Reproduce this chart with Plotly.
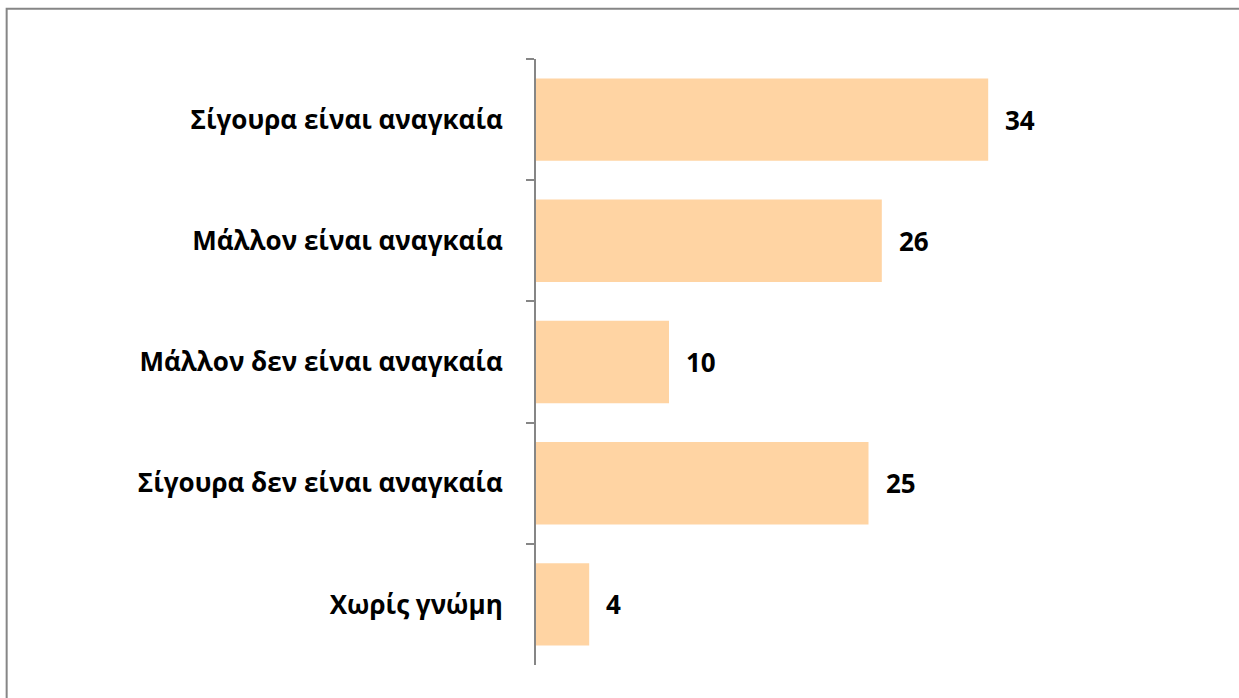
import plotly.graph_objects as go

categories = [
    "Σίγουρα είναι αναγκαία",
    "Μάλλον είναι αναγκαία",
    "Μάλλον δεν είναι αναγκαία",
    "Σίγουρα δεν είναι αναγκαία",
    "Χωρίς γνώμη",
]
values = [34, 26, 10, 25, 4]

bar_color = "#FFD4A3"
axis_gray = "#868686"
font_family = "Open Sans, Noto Sans, DejaVu Sans, sans-serif"

fig = go.Figure()
fig.add_trace(go.Bar(
    x=values,
    y=categories,
    orientation="h",
    marker=dict(color=bar_color, line=dict(width=0)),
    width=0.68,
    hoverinfo="skip",
))

# value labels to the right of each bar
for cat, val in zip(categories, values):
    fig.add_annotation(
        x=val, y=cat, text=f"<b>{val}</b>",
        showarrow=False, xanchor="left", xshift=15,
        font=dict(size=26, color="black", family=font_family),
    )

# outer chart border (right and bottom edges fall outside the image)
fig.add_shape(
    type="rect", xref="paper", yref="paper",
    x0=-0.796, x1=1.3, y0=-0.2, y1=1.083,
    line=dict(color=axis_gray, width=2), layer="below",
)

fig.update_layout(
    width=1239, height=698,
    margin=dict(l=536, r=38, t=59, b=33),
    paper_bgcolor="white",
    plot_bgcolor="white",
    showlegend=False,
    font=dict(family=font_family, size=26, color="black"),
    bargap=0.32,
)
fig.update_xaxes(
    range=[0, 50], visible=False, showgrid=False, zeroline=False,
)
fig.update_yaxes(
    autorange="reversed",
    tickson="boundaries",
    ticks="outside", ticklen=8, tickwidth=2, tickcolor=axis_gray,
    showline=True, linecolor=axis_gray, linewidth=2,
    showgrid=False,
    ticklabelstandoff=26,
    tickfont=dict(size=26, family=font_family, weight="bold"),
)

# drop the default body margin so the figure fills the window exactly
fig.write_html(
    "out.html",
    config={"displayModeBar": False},
    post_script="document.body.style.margin='0';",
)
